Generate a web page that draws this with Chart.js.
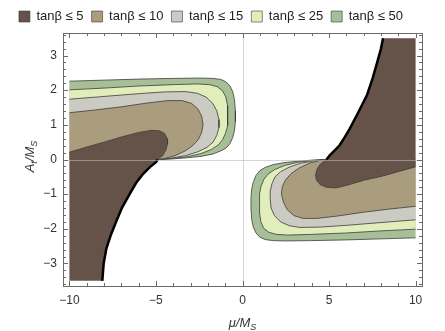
<!DOCTYPE html>
<html>
<head>
<meta charset="utf-8">
<script src="https://cdn.jsdelivr.net/npm/chart.js@4.4.1/dist/chart.umd.min.js"></script>
<style>
  html, body { margin: 0; padding: 0; background: #fff; }
</style>
</head>
<body>
<canvas id="regionChart" width="445" height="331"></canvas>
<script>
var labels = ["tanβ ≤ 5", "tanβ ≤ 10", "tanβ ≤ 15", "tanβ ≤ 25", "tanβ ≤ 50"];
var colors = ["#655349", "#a99d7d", "#cbcbc3", "#e1eebb", "#a7bf97"];
var xTicks = [-10, -5, 0, 5, 10];
var yTicks = [-3, -2, -1, 0, 1, 2, 3];

// region boundaries, [mu/Ms, At/Ms]
// left lobes (mu < 0)
var left50 = [[-10,2.26],[-8,2.29],[-6,2.32],[-4,2.34],[-2.5,2.35],[-1.7,2.34],[-1.25,2.31],[-0.95,2.24],[-0.72,2.12],[-0.56,1.95],[-0.46,1.72],[-0.41,1.4],[-0.41,1.1],[-0.46,0.85],[-0.56,0.64],[-0.72,0.46],[-0.95,0.33],[-1.25,0.25],[-1.7,0.16],[-2.4,0.09],[-3.2,0.05],[-4.1,0.015],[-4.9,0]];
var left25 = [[-10,2.01],[-8,2.06],[-6,2.12],[-4,2.16],[-2.6,2.18],[-1.9,2.16],[-1.45,2.1],[-1.15,1.98],[-0.96,1.8],[-0.86,1.55],[-0.84,1.25],[-0.88,0.98],[-0.98,0.76],[-1.15,0.57],[-1.4,0.42],[-1.8,0.29],[-2.4,0.17],[-3.2,0.08],[-4.0,0.03],[-4.9,0]];
var left15 = [[-10,1.74],[-8,1.82],[-6,1.9],[-4.5,1.95],[-3.3,1.96],[-2.6,1.91],[-2.1,1.8],[-1.72,1.62],[-1.48,1.4],[-1.36,1.15],[-1.36,0.92],[-1.48,0.7],[-1.7,0.5],[-2.05,0.35],[-2.6,0.22],[-3.3,0.11],[-4.1,0.04],[-4.9,0]];
var left10 = [[-10,1.35],[-8.5,1.43],[-7,1.52],[-5.5,1.63],[-4.3,1.7],[-3.5,1.7],[-2.95,1.62],[-2.58,1.46],[-2.36,1.25],[-2.28,1.0],[-2.36,0.78],[-2.55,0.58],[-2.85,0.41],[-3.3,0.25],[-3.9,0.11],[-4.5,0.03],[-4.9,0]];
var left5 = [[-10,0.21],[-9,0.36],[-8,0.5],[-7,0.65],[-6,0.78],[-5.3,0.84],[-4.8,0.83],[-4.5,0.75],[-4.35,0.6],[-4.33,0.45],[-4.42,0.28],[-4.6,0.12],[-4.9,0]];
var leftEdge = [[-4.9,0],[-5.0,-0.08],[-5.35,-0.22],[-5.75,-0.42],[-6.15,-0.68],[-6.52,-1.0],[-6.95,-1.38],[-7.29,-1.78],[-7.6,-2.17],[-7.87,-2.58],[-8.02,-3.0],[-8.1,-3.5]];
var leftCorner = [[-10, -3.5]];

// right lobes (mu > 0)
var right50 = [[10,-2.26],[8,-2.29],[6,-2.32],[4,-2.34],[2.5,-2.35],[1.75,-2.34],[1.3,-2.31],[1.0,-2.24],[0.78,-2.12],[0.62,-1.95],[0.53,-1.72],[0.49,-1.4],[0.49,-1.1],[0.53,-0.85],[0.63,-0.64],[0.78,-0.46],[1.0,-0.32],[1.3,-0.23],[1.75,-0.15],[2.4,-0.09],[3.2,-0.05],[4.1,-0.015],[4.85,0]];
var right25 = [[10,-2.01],[8,-2.06],[6,-2.12],[4,-2.16],[2.6,-2.18],[1.95,-2.16],[1.52,-2.1],[1.22,-1.98],[1.06,-1.8],[0.99,-1.55],[0.97,-1.25],[1.0,-0.98],[1.08,-0.76],[1.24,-0.57],[1.48,-0.42],[1.86,-0.29],[2.45,-0.17],[3.2,-0.08],[4.0,-0.03],[4.85,0]];
var right15 = [[10,-1.74],[8,-1.82],[6,-1.9],[4.5,-1.95],[3.3,-1.96],[2.7,-1.91],[2.2,-1.8],[1.85,-1.62],[1.65,-1.4],[1.6,-1.15],[1.6,-0.92],[1.7,-0.7],[1.88,-0.5],[2.2,-0.35],[2.7,-0.22],[3.35,-0.11],[4.1,-0.04],[4.85,0]];
var right10 = [[10,-1.35],[8.5,-1.43],[7,-1.52],[5.5,-1.63],[4.3,-1.7],[3.5,-1.7],[2.98,-1.62],[2.6,-1.46],[2.38,-1.25],[2.25,-1.0],[2.3,-0.78],[2.5,-0.58],[2.8,-0.41],[3.25,-0.25],[3.85,-0.11],[4.45,-0.03],[4.85,0]];
var right5 = [[10,-0.21],[9,-0.35],[8,-0.49],[7,-0.6],[6,-0.75],[5.4,-0.82],[4.85,-0.8],[4.5,-0.73],[4.27,-0.6],[4.22,-0.45],[4.3,-0.28],[4.5,-0.13],[4.85,0]];
var rightEdge = [[4.85,0],[5.04,0.12],[5.3,0.25],[5.61,0.41],[5.9,0.64],[6.2,0.89],[6.7,1.37],[7.2,1.87],[7.52,2.35],[7.8,2.84],[8.0,3.2],[8.12,3.5]];
var rightCorner = [[10, 3.5]];

function pts(arr) {
    return arr.map(function (p) { return { x: p[0], y: p[1] }; });
}

// filled area, closed back along At = 0 (lobes) or the plot border
function area(arr, i, inLegend) {
    var first = arr[0], last = arr[arr.length - 1];
    var closed = arr.concat([[first[0], last[1]], first]);
    return {
        label: labels[i],
        data: pts(closed),
        inLegend: inLegend,
        showLine: true,
        fill: 'shape',
        backgroundColor: colors[i],
        borderColor: colors[i],
        borderWidth: 0,
        pointRadius: 0,
        tension: 0
    };
}

// thin contour line on top of an area
function outline(arr) {
    return {
        label: 'outline',
        data: pts(arr),
        inLegend: false,
        showLine: true,
        fill: false,
        borderColor: 'rgba(60,60,60,0.8)',
        borderWidth: 1,
        pointRadius: 0,
        tension: 0
    };
}

function edge(arr) {
    return {
        label: 'edge',
        data: pts(arr),
        inLegend: false,
        showLine: true,
        fill: false,
        borderColor: '#000',
        borderWidth: 2.5,
        pointRadius: 0,
        tension: 0,
        order: -1
    };
}

// index 0 is drawn last (on top)
var datasets = [
    outline(left5), outline(right5),
    area(left5.concat(leftEdge.slice(1), leftCorner), 0, true),
    area(right5.concat(rightEdge.slice(1), rightCorner), 0, false),
    outline(left10), outline(right10),
    area(left10, 1, true), area(right10, 1, false),
    outline(left15), outline(right15),
    area(left15, 2, true), area(right15, 2, false),
    outline(left25), outline(right25),
    area(left25, 3, true), area(right25, 3, false),
    outline(left50), outline(right50),
    area(left50, 4, true), area(right50, 4, false),
    edge(leftEdge), edge(rightEdge)
];

function fmt(v) {
    return v < 0 ? '\u2212' + Math.abs(v) : String(v);
}

var tickFont = { family: "'Liberation Sans', Arial, sans-serif", size: 12 };

// frame with inward ticks, axes through the origin, axis titles
var framePlugin = {
    id: 'frame',
    afterDatasetsDraw: function (chart) {
        var ctx = chart.ctx, a = chart.chartArea, sx = chart.scales.x, sy = chart.scales.y;
        ctx.save();
        ctx.lineWidth = 1;
        ctx.strokeStyle = 'rgba(185,185,185,0.6)';
        var x0 = Math.round(sx.getPixelForValue(0)) + 0.5;
        var y0 = Math.round(sy.getPixelForValue(0)) + 0.5;
        ctx.beginPath();
        ctx.moveTo(x0, a.top); ctx.lineTo(x0, a.bottom);
        ctx.moveTo(a.left, y0); ctx.lineTo(a.right, y0);
        ctx.stroke();

        ctx.strokeStyle = '#6a6a6a';
        ctx.strokeRect(Math.round(a.left) + 0.5, Math.round(a.top) + 0.5,
            Math.round(a.right - a.left), Math.round(a.bottom - a.top));
        ctx.beginPath();
        var v, p, len;
        for (v = -10; v <= 10; v += 1) {
            p = Math.round(sx.getPixelForValue(v)) + 0.5;
            len = xTicks.indexOf(v) >= 0 ? 5 : 3;
            ctx.moveTo(p, a.bottom); ctx.lineTo(p, a.bottom - len);
            ctx.moveTo(p, a.top); ctx.lineTo(p, a.top + len);
        }
        for (var k = -18; k <= 18; k++) {
            v = k / 5;
            p = Math.round(sy.getPixelForValue(v)) + 0.5;
            len = (k % 5 === 0) ? 5 : 3;
            ctx.moveTo(a.left, p); ctx.lineTo(a.left + len, p);
            ctx.moveTo(a.right, p); ctx.lineTo(a.right - len, p);
        }
        ctx.stroke();
        ctx.restore();
    },
    afterDraw: function (chart) {
        var ctx = chart.ctx, a = chart.chartArea;
        var big = "italic 13px 'Liberation Sans', Arial, sans-serif";
        var small = "italic 9px 'Liberation Sans', Arial, sans-serif";
        ctx.save();
        ctx.fillStyle = '#333';
        ctx.textBaseline = 'alphabetic';

        function title(parts, cx, cy) {
            var w = 0;
            parts.forEach(function (s) { ctx.font = s[1] ? small : big; w += ctx.measureText(s[0]).width; });
            var x = cx - w / 2;
            parts.forEach(function (s) {
                ctx.font = s[1] ? small : big;
                ctx.fillText(s[0], x, cy + (s[1] ? 3 : 0));
                x += ctx.measureText(s[0]).width;
            });
        }

        title([['μ/M', false], ['S', true]], (a.left + a.right) / 2, 327);
        ctx.translate(34, (a.top + a.bottom) / 2 - 3);
        ctx.rotate(-Math.PI / 2);
        title([['A', false], ['t', true], ['/M', false], ['S', true]], 0, 0);
        ctx.restore();
    }
};

var ctx = document.getElementById("regionChart");

var myChart = new Chart(ctx, {
    type: "scatter",
    data: { datasets: datasets },
    plugins: [framePlugin],
    options: {
        responsive: false,
        animation: false,
        events: [],
        layout: { padding: { top: 2, right: 23, bottom: 0, left: 0 } },
        plugins: {
            tooltip: { enabled: false },
            legend: {
                position: 'top',
                labels: {
                    boxWidth: 11,
                    boxHeight: 11,
                    padding: 8,
                    color: '#222',
                    font: { family: "'Liberation Sans', Arial, sans-serif", size: 13 },
                    filter: function (item, data) { return data.datasets[item.datasetIndex].inLegend; },
                    generateLabels: function (chart) {
                        var items = Chart.defaults.plugins.legend.labels.generateLabels(chart);
                        items.forEach(function (it) {
                            it.strokeStyle = 'rgba(60,60,60,0.6)';
                            it.lineWidth = 1;
                        });
                        return items;
                    }
                }
            }
        },
        scales: {
            x: {
                type: 'linear',
                min: -10.37,
                max: 10.37,
                afterBuildTicks: function (s) { s.ticks = xTicks.map(function (v) { return { value: v }; }); },
                afterFit: function (s) { s.height = 45; },
                grid: { display: false, drawTicks: false },
                border: { display: false },
                ticks: { autoSkip: false, maxRotation: 0, padding: 7, color: '#333', font: tickFont, callback: fmt }
            },
            y: {
                type: 'linear',
                min: -3.65,
                max: 3.65,
                afterBuildTicks: function (s) { s.ticks = yTicks.map(function (v) { return { value: v }; }); },
                afterFit: function (s) { s.width = 63; },
                grid: { display: false, drawTicks: false },
                border: { display: false },
                ticks: { autoSkip: false, padding: 6, color: '#333', font: tickFont, callback: fmt }
            }
        }
    }
});
</script>
</body>
</html>
